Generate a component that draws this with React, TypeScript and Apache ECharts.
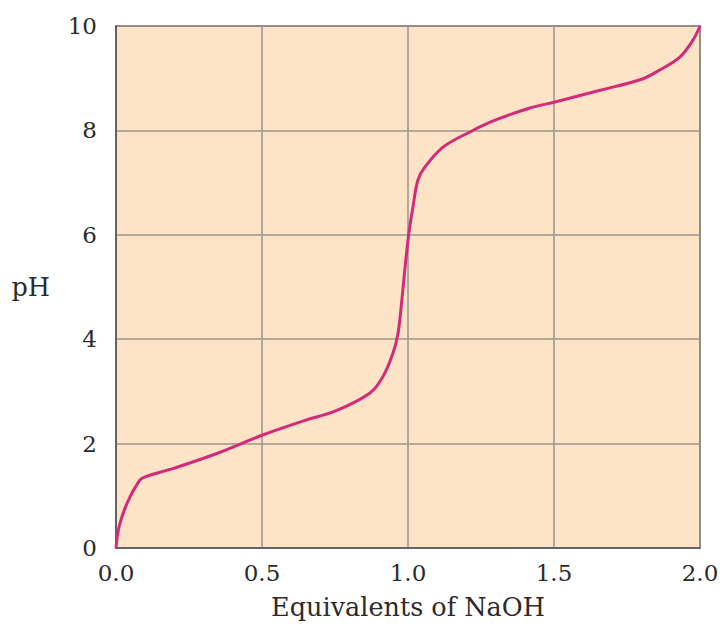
import React, { useEffect, useRef } from "react";
import * as echarts from "echarts";

const equivalents = [0, 0.005, 0.014, 0.03, 0.048, 0.07, 0.09, 0.2, 0.35, 0.5, 0.65, 0.75, 0.87, 0.914, 0.949, 0.966, 0.979, 0.99, 1.003, 1.017, 1.034, 1.058, 1.12, 1.212, 1.3, 1.418, 1.5, 1.658, 1.795, 1.863, 1.932, 1.976, 2.0];
const phValues = [0, 0.25, 0.48, 0.75, 0.98, 1.2, 1.34, 1.53, 1.82, 2.16, 2.45, 2.62, 2.97, 3.28, 3.74, 4.12, 4.75, 5.38, 6.03, 6.53, 7.05, 7.3, 7.68, 7.97, 8.2, 8.43, 8.54, 8.77, 8.97, 9.16, 9.41, 9.73, 10.0];
const xTicks = [0, 0.5, 1.0, 1.5, 2.0];
const yTicks = [0, 2, 4, 6, 8, 10];

const FONT = "DejaVu Serif";

export default function App() {
  const ref = useRef<HTMLDivElement>(null);
  useEffect(() => {
    if (!ref.current) return;
    const chart = echarts.init(ref.current, undefined, { renderer: "svg" });
    const data = equivalents.map((x, i) => [x, phValues[i]]);
    chart.setOption({
      animation: false,
      backgroundColor: "#ffffff",
      grid: {
        left: 116,
        right: 23,
        top: 26,
        bottom: 78,
        show: true,
        backgroundColor: "#FDE4C6",
        borderColor: "#555555",
        borderWidth: 1.5,
      },
      xAxis: {
        type: "value",
        min: 0,
        max: 2,
        interval: 0.5,
        name: "Equivalents of NaOH",
        nameLocation: "middle",
        nameGap: 46,
        nameTextStyle: { fontFamily: FONT, fontSize: 25.5, color: "#2b2b2b" },
        axisLine: { show: true, lineStyle: { color: "#555555", width: 1.5 } },
        axisTick: { show: false },
        axisLabel: {
          fontFamily: FONT,
          fontSize: 23,
          color: "#2b2b2b",
          margin: 13,
          formatter: (v: number) => (xTicks.includes(v) ? v.toFixed(1) : ""),
        },
        splitLine: { show: true, lineStyle: { color: "#9a9590", width: 1.5 } },
      },
      yAxis: {
        type: "value",
        min: 0,
        max: 10,
        interval: 2,
        name: "pH",
        nameLocation: "middle",
        nameRotate: 0,
        nameGap: 66,
        nameTextStyle: { fontFamily: FONT, fontSize: 25.5, color: "#2b2b2b" },
        axisLine: { show: true, lineStyle: { color: "#555555", width: 1.5 } },
        axisTick: { show: false },
        axisLabel: {
          fontFamily: FONT,
          fontSize: 23,
          color: "#2b2b2b",
          margin: 19,
          formatter: (v: number) => (yTicks.includes(v) ? String(v) : ""),
        },
        splitLine: { show: true, lineStyle: { color: "#9a9590", width: 1.5 } },
      },
      series: [
        {
          type: "line",
          data,
          showSymbol: false,
          smooth: 0.35,
          lineStyle: { color: "#D42A7C", width: 3 },
        },
      ],
    });
    return () => chart.dispose();
  }, []);
  return (
    <div
      ref={ref}
      style={{ position: "absolute", left: 0, top: 0, width: 723, height: 626 }}
    />
  );
}
